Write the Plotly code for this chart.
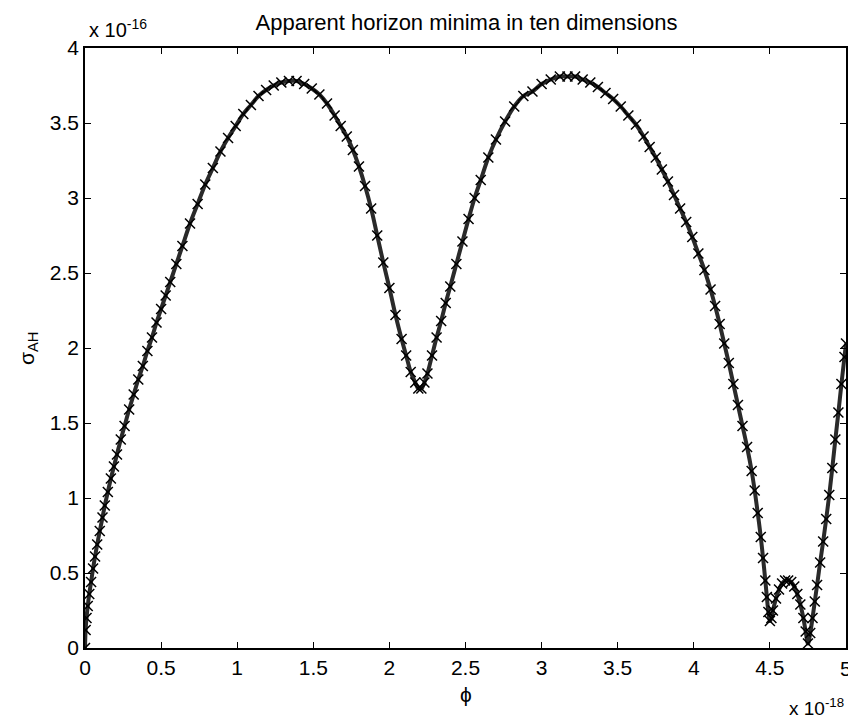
import plotly.graph_objects as go

# phi values (units of 1e-18) and sigma_AH values (units of 1e-16)
phi_rise = [0.000, 0.004, 0.010, 0.018, 0.028, 0.040, 0.053, 0.066, 0.080, 0.097, 0.115, 0.130,
            0.150, 0.170, 0.190, 0.210, 0.235, 0.260, 0.290, 0.320, 0.350, 0.380, 0.410, 0.440,
            0.470, 0.500, 0.530, 0.560, 0.600, 0.640, 0.690, 0.740, 0.790, 0.840, 0.890, 0.940,
            0.990, 1.040, 1.090, 1.140, 1.190, 1.240, 1.290, 1.340]
sig_rise = [0.00, 0.12, 0.20, 0.28, 0.36, 0.44, 0.53, 0.61, 0.69, 0.78, 0.87, 0.95,
            1.04, 1.13, 1.21, 1.29, 1.39, 1.48, 1.59, 1.69, 1.79, 1.88, 1.98, 2.07,
            2.17, 2.26, 2.35, 2.44, 2.56, 2.68, 2.83, 2.96, 3.09, 3.20, 3.31, 3.40,
            3.48, 3.56, 3.62, 3.68, 3.72, 3.75, 3.77, 3.78]

phi_dip = [1.39, 1.44, 1.49, 1.54, 1.59, 1.64, 1.68, 1.72, 1.76, 1.80, 1.84, 1.88, 1.92, 1.96,
           2.00, 2.04, 2.08, 2.11, 2.14, 2.17, 2.19, 2.21, 2.23, 2.25, 2.28, 2.31, 2.34, 2.37,
           2.40, 2.44, 2.48, 2.52, 2.56, 2.60, 2.65, 2.70, 2.76, 2.82, 2.88, 2.94, 3.00, 3.06,
           3.12, 3.17]
sig_dip = [3.78, 3.76, 3.73, 3.69, 3.63, 3.55, 3.48, 3.41, 3.32, 3.21, 3.08, 2.93, 2.75, 2.57,
           2.40, 2.22, 2.06, 1.95, 1.84, 1.77, 1.73, 1.73, 1.77, 1.83, 1.95, 2.07, 2.18, 2.30,
           2.41, 2.56, 2.71, 2.86, 3.00, 3.12, 3.27, 3.39, 3.51, 3.61, 3.68, 3.71, 3.76, 3.79,
           3.81, 3.81]

phi_fall = [3.22, 3.27, 3.32, 3.37, 3.42, 3.47, 3.52, 3.57, 3.62, 3.67, 3.71, 3.75, 3.79, 3.83,
            3.87, 3.91, 3.95, 3.99, 4.03, 4.07, 4.11, 4.14, 4.17, 4.20, 4.23, 4.26, 4.29, 4.32,
            4.35, 4.38, 4.40, 4.42, 4.44, 4.455, 4.47, 4.48, 4.49, 4.50]
sig_fall = [3.81, 3.79, 3.77, 3.74, 3.70, 3.66, 3.61, 3.55, 3.49, 3.41, 3.34, 3.27, 3.19, 3.11,
            3.02, 2.93, 2.84, 2.74, 2.63, 2.52, 2.39, 2.28, 2.16, 2.03, 1.90, 1.76, 1.62, 1.48,
            1.34, 1.18, 1.05, 0.90, 0.74, 0.60, 0.45, 0.34, 0.24, 0.18]

phi_w = [4.51, 4.52, 4.54, 4.56, 4.58, 4.60, 4.62, 4.64, 4.66, 4.68, 4.70, 4.72, 4.735, 4.75,
         4.765, 4.78, 4.795, 4.81, 4.83, 4.85, 4.87, 4.89, 4.91, 4.93, 4.95, 4.97, 4.99, 5.00]
sig_w = [0.20, 0.25, 0.33, 0.39, 0.43, 0.45, 0.45, 0.44, 0.41, 0.36, 0.29, 0.20, 0.11, 0.03,
         0.10, 0.20, 0.31, 0.42, 0.57, 0.71, 0.86, 1.02, 1.20, 1.39, 1.57, 1.76, 1.94, 2.03]

phi = phi_rise + phi_dip + phi_fall + phi_w
sigma = sig_rise + sig_dip + sig_fall + sig_w

x_ticks = [0, 0.5, 1, 1.5, 2, 2.5, 3, 3.5, 4, 4.5]
x_labels = ["0", "0.5", "1", "1.5", "2", "2.5", "3", "3.5", "4", "4.5"]
x_last_tick = 5
x_last_label = "5"
y_ticks = [0, 0.5, 1, 1.5, 2, 2.5, 3, 3.5, 4]
y_labels = ["0", "0.5", "1", "1.5", "2", "2.5", "3", "3.5", "4"]

FONT = "Liberation Sans, Arial, sans-serif"

fig = go.Figure()
fig.add_trace(go.Scatter(
    x=phi, y=sigma, mode="lines+markers",
    line=dict(color="#2a2a2a", width=4, shape="spline"),
    marker=dict(symbol="x-thin", size=10, line=dict(color="black", width=1.5)),
    showlegend=False, hoverinfo="skip",
))

axis_common = dict(
    showline=True, linecolor="black", linewidth=1.5, mirror="ticks",
    ticks="inside", ticklen=6, tickwidth=1.2, tickcolor="black",
    showgrid=False, zeroline=False,
    tickfont=dict(family=FONT, size=21, color="black"),
)

fig.update_layout(
    width=848, height=722,
    margin=dict(l=85, r=0, t=48, b=74),
    paper_bgcolor="white", plot_bgcolor="white",
    title=dict(text="Apparent horizon minima in ten dimensions",
               font=dict(family=FONT, size=22, color="black"),
               x=(85 + 848) / 2 / 848, xanchor="center", y=1 - 22 / 722, yanchor="middle"),
    xaxis=dict(range=[0, 5], tickvals=x_ticks, ticktext=x_labels, **axis_common),
    yaxis=dict(range=[0, 4], tickvals=y_ticks, ticktext=y_labels, **axis_common),
    annotations=[
        dict(text=x_last_label, xref="x", yref="paper", x=x_last_tick, y=-0.012,
             xanchor="center", yanchor="top", showarrow=False,
             font=dict(family=FONT, size=21, color="black")),
        dict(text="x 10<sup>-16</sup>", xref="paper", yref="paper", x=0.002, y=1.008,
             xanchor="left", yanchor="bottom", showarrow=False,
             font=dict(family=FONT, size=20, color="black")),
        dict(text="x 10<sup>-18</sup>", xref="paper", yref="paper", x=1.0, y=-0.122,
             xanchor="right", yanchor="bottom", showarrow=False,
             font=dict(family=FONT, size=19, color="black")),
        dict(text="ϕ", xref="paper", yref="paper", x=0.5, y=-0.055,
             xanchor="center", yanchor="top", showarrow=False,
             font=dict(family=FONT, size=21, color="black")),
        dict(text="σ<sub>AH</sub>", xref="paper", yref="paper", x=-0.075, y=0.5,
             xanchor="center", yanchor="middle", showarrow=False, textangle=-90,
             font=dict(family=FONT, size=21, color="black")),
    ],
)

fig.write_html("out.html")
